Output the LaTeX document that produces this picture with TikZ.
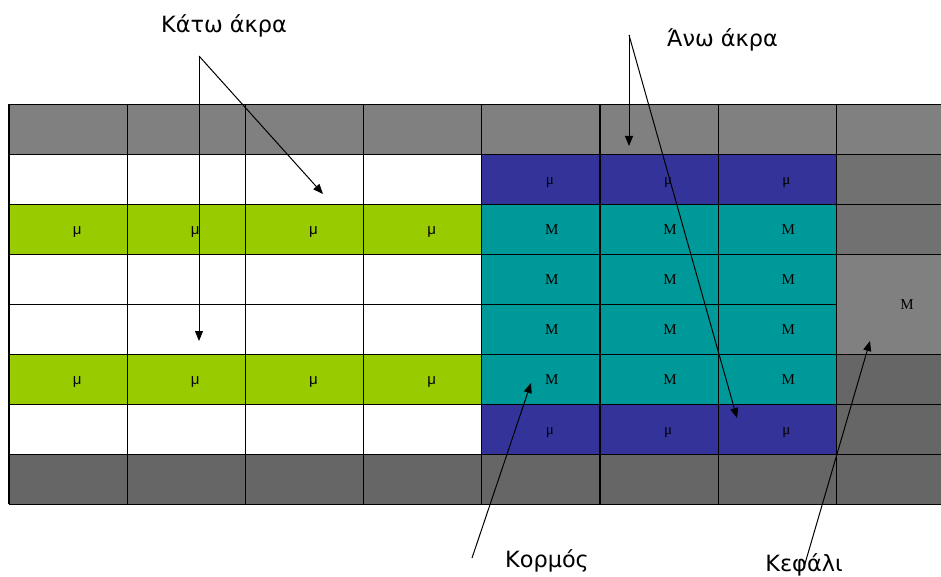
\documentclass[tikz,border=0pt]{standalone}
\usepackage{fontspec}
\setmainfont{Liberation Serif}
\newfontfamily\labelfont{DejaVu Sans}
\newfontfamily\cellsans{Liberation Sans}
\usetikzlibrary{arrows.meta}
\definecolor{limeg}{HTML}{99CC00}
\definecolor{tealc}{HTML}{009999}
\definecolor{navyc}{HTML}{333399}
\definecolor{greyA}{HTML}{808080}
\definecolor{greyB}{HTML}{717171}
\definecolor{greyC}{HTML}{666666}
\begin{document}
\begin{tikzpicture}[x=1pt,y=-1pt,
  gridline/.style={draw=black, line width=1.3pt},
  mutxt/.style={font=\cellsans\fontsize{15}{15}\selectfont, inner sep=0pt, anchor=base},
  serif/.style={font=\fontsize{15}{15}\selectfont, inner sep=0pt, anchor=base},
  lbl/.style={font=\labelfont\fontsize{22.4}{22.4}\selectfont, inner sep=0pt, anchor=base},
  pointer/.style={line width=1pt, -{Triangle[length=10pt,width=8pt]}}]
\useasboundingbox (0,0) rectangle (941,577);
% column and row edges
\def\xL{9}\def\cw{118.2}\def\yT{104.3}\def\rh{50}
\pgfmathsetmacro{\xR}{\xL+7*\cw}
% top and bottom bands
\fill[greyA] (\xL,\yT) rectangle (950,\yT+\rh);
\fill[greyC] (\xL,\yT+7*\rh) rectangle (950,\yT+8*\rh);
% left block: white with two green rows
\fill[white] (\xL,\yT+\rh) rectangle (\xL+4*\cw,\yT+7*\rh);
\fill[limeg] (\xL,\yT+2*\rh) rectangle (\xL+4*\cw,\yT+3*\rh);
\fill[limeg] (\xL,\yT+5*\rh) rectangle (\xL+4*\cw,\yT+6*\rh);
% middle block
\fill[navyc] (\xL+4*\cw,\yT+\rh) rectangle (\xR,\yT+2*\rh);
\fill[tealc] (\xL+4*\cw,\yT+2*\rh) rectangle (\xR,\yT+6*\rh);
\fill[navyc] (\xL+4*\cw,\yT+6*\rh) rectangle (\xR,\yT+7*\rh);
% right column
\fill[greyB] (\xR,\yT+\rh) rectangle (950,\yT+3*\rh);
\fill[greyA] (\xR,\yT+3*\rh) rectangle (950,\yT+5*\rh);
\fill[greyC] (\xR,\yT+5*\rh) rectangle (950,\yT+7*\rh);
% grid lines
\foreach \i in {0,...,7}
  \draw[gridline] (\xL+\i*\cw,\yT) -- (\xL+\i*\cw,\yT+8*\rh);
\foreach \j in {0,1,2,3,5,6,7,8}
  \draw[gridline] (\xL,\yT+\j*\rh) -- (950,\yT+\j*\rh);
\draw[gridline] (\xL,\yT+4*\rh) -- (\xR,\yT+4*\rh);
% cell texts (placed on their baselines)
\foreach \i in {0,...,3}{
  \node[mutxt] (g1\i) at (\xL+\i*\cw+0.5*\cw+9,\yT+2.5*\rh+5.5) {μ};
  \node[mutxt] (g2\i) at (\xL+\i*\cw+0.5*\cw+9,\yT+5.5*\rh+5.5) {μ};
}
\foreach \i in {4,5,6}{
  \node[serif] (b1\i) at (\xL+\i*\cw+0.5*\cw+9,\yT+1.5*\rh+5.5) {μ};
  \node[serif] (b2\i) at (\xL+\i*\cw+0.5*\cw+9,\yT+6.5*\rh+5.5) {μ};
  \foreach \j in {2,3,4,5}
    \node[serif] (t\j\i) at (\xL+\i*\cw+0.5*\cw+11,\yT+\j*\rh+0.5*\rh+5.5) {M};
}
\node[serif] (head) at (907,\yT+4*\rh+5.5) {M};
% labels
\node[lbl] (lowlimbs) at (224,32.3) {Κάτω άκρα};
\node[lbl] (uplimbs) at (722.5,46.7) {Άνω άκρα};
\node[lbl] (trunk) at (547,567.7) {Κορμός};
\node[lbl] (headlbl) at (804,571) {Κεφάλι};
% connector points
\coordinate (kv) at (199,56);
\coordinate (k1) at (199,341);
\coordinate (k2) at (323,194);
\coordinate (av) at (629,35);
\coordinate (a1) at (629,146);
\coordinate (a2) at (737,418);
\coordinate (ks) at (472,558);
\coordinate (ke) at (531,383);
\coordinate (fs) at (804,567);
\coordinate (fe) at (870,341);
% connectors
\draw[pointer] (kv) -- (k1);
\draw[pointer] (kv) -- (k2);
\draw[pointer] (av) -- (a1);
\draw[pointer] (av) -- (a2);
\draw[pointer] (ks) -- (ke);
\draw[pointer] (fs) -- (fe);
\end{tikzpicture}
\end{document}
